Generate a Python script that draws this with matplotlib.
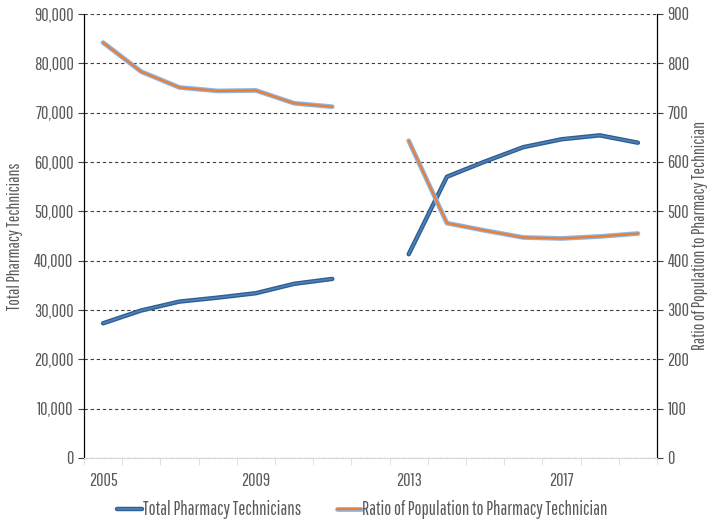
import numpy as np
import matplotlib
matplotlib.use("Agg")
import matplotlib.pyplot as plt
from matplotlib.ticker import FuncFormatter, MultipleLocator

plt.rcParams['font.family'] = ['Pathway Gothic One', 'DejaVu Sans']

years = list(range(2005, 2020))
total_techs = [27300, 29900, 31700, 32500, 33400, 35300, 36300, np.nan,
               41300, 57000, 60100, 63000, 64600, 65400, 63900]
ratio_pop = [842, 783, 751, 744, 745, 719, 712, np.nan,
             643, 476, 461, 447, 445, 449, 455]
year_labels = ['2005', '2009', '2013', '2017']

text_col = '#595959'
dark_blue = '#2F5F8F'
mid_blue = '#4F81BD'
light_blue = '#8DB4E2'
orange = '#ED7D31'

fig = plt.figure(figsize=(7.08, 5.23), dpi=100)
ax1 = fig.add_axes([0.1186, 0.1243, 0.8094, 0.849])
ax2 = ax1.twinx()

x = np.arange(len(years))

# total pharmacy technicians: dark outline, lighter core
l1a, = ax1.plot(x, total_techs, color=dark_blue, lw=3.2, solid_capstyle='round', zorder=3)
l1b, = ax1.plot(x, total_techs, color=mid_blue, lw=1.2, solid_capstyle='round', zorder=4)

# ratio: light blue outline, orange core
l2a, = ax2.plot(x, ratio_pop, color=light_blue, lw=3.4, solid_capstyle='round', zorder=3)
l2b, = ax2.plot(x, ratio_pop, color=orange, lw=1.6, solid_capstyle='round', zorder=4)

ax1.set_xlim(-0.5, len(years) - 0.5)
ax1.set_ylim(0, 90000)
ax2.set_ylim(0, 900)
ax1.yaxis.set_major_locator(MultipleLocator(10000))
ax2.yaxis.set_major_locator(MultipleLocator(100))
ax1.yaxis.set_major_formatter(FuncFormatter(lambda v, p: f'{int(v):,}'))

ax1.set_xticks([years.index(int(y)) for y in year_labels])
ax1.set_xticklabels(year_labels)
ax1.set_xticks(np.arange(-0.5, len(years)), minor=True)
ax1.tick_params(axis='x', which='major', length=0, pad=11, labelsize=13, labelcolor=text_col)
ax1.tick_params(axis='x', which='minor', length=5, color='#D9D9D9')
ax1.tick_params(axis='y', length=4, color='#404040', labelsize=13, labelcolor=text_col)
ax2.tick_params(axis='y', length=4, color='#404040', labelsize=13, labelcolor=text_col)

ax1.grid(axis='y', color='#404040', linestyle=(0, (3, 2.5)), lw=0.8)
ax1.set_axisbelow(True)

for ax in (ax1, ax2):
    ax.spines['top'].set_visible(False)
    ax.spines['left'].set_color('black')
    ax.spines['right'].set_color('black')
    ax.spines['bottom'].set_color('#D9D9D9')

ax1.set_ylabel('Total Pharmacy Technicians', color=text_col, fontsize=12.5, va='center')
ax1.yaxis.set_label_coords(-0.121, 0.5)
ax2.set_ylabel('Ratio of Population to Pharmacy Technician', color=text_col,
               fontsize=12.5, rotation=90, va='center')
ax2.yaxis.set_label_coords(1.075, 0.5)

fig.legend([(l1a, l1b), (l2a, l2b)],
           ['Total Pharmacy Technicians', 'Ratio of Population to Pharmacy Technician'],
           loc='center', bbox_to_anchor=(0.512, 0.025), ncol=2, frameon=False,
           fontsize=13.5, labelcolor=text_col, handlelength=1.3, handletextpad=0.05,
           columnspacing=1.9)

fig.savefig('out.png', dpi=100)
